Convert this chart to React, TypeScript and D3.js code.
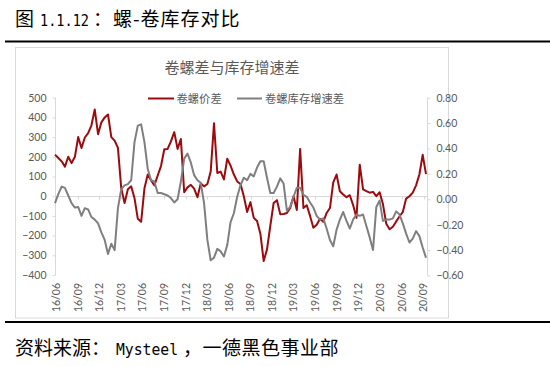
import React, { useRef, useEffect } from 'react';
import * as d3 from 'd3';

// biweekly samples, starting 2016-05-27
const startDate = '2016-05-27';
const stepDays = 14;

// 卷螺价差 (left axis)
const spreadValues = [
  211, 194, 177, 150, 200, 168, 200, 300, 245, 298,
  320, 360, 440, 315, 375, 400, 415, 300, 282, 245,
  40, -35, 35, 50, -10, -115, -130, 40, 110, 80,
  55, 105, 153, 238, 240, 278, 325, 240, 290, 20,
  45, 58, 38, -5, 65, 50, 62, 125, 370, 118,
  125, 85, 190, 155, 110, 75, 62, 0, -80, -30,
  -110, -126, -190, -329, -270, -150, -35, -20, -92, -90,
  -85, -60, 0, -70, 240, -60, -46, -100, -160, -145,
  -115, -130, -85, -60, 70, 110, 25, 9, -5, 5,
  -45, -110, 160, 35, 26, 18, 22, 0, 20, -40,
  -140, -168, -155, -128, -103, -80, -12, 0, 18, 55,
  110, 210, 112,
];

// 卷螺库存增速差 (right axis)
const stockValues = [
  -0.03, 0.04, 0.10, 0.09, 0.03, -0.03, -0.065, -0.06, -0.13, -0.07,
  -0.08, -0.14, -0.16, -0.19, -0.26, -0.32, -0.43, -0.35, -0.40, -0.07,
  0.08, 0.11, 0.12, 0.15, 0.45, 0.58, 0.59, 0.45, 0.24, 0.15,
  0.14, 0.05, 0.05, 0.04, 0.03, 0.01, -0.025, 0.0, 0.14, 0.32,
  0.36, 0.29, 0.19, 0.15, 0.13, -0.03, -0.32, -0.48, -0.46, -0.39,
  -0.41, -0.45, -0.36, -0.18, -0.11, 0.02, 0.11, 0.17, 0.15, 0.20,
  0.18, 0.25, 0.30, 0.30, 0.17, 0.05, 0.05, 0.10, 0.165, 0.125,
  -0.09, -0.06, 0.02, 0.09, 0.09, 0.035, 0.02, -0.025, -0.065, -0.13,
  -0.16, -0.15, -0.23, -0.32, -0.37, -0.24, -0.16, -0.10, -0.17, -0.23,
  -0.16, -0.12, -0.13, -0.12, -0.21, -0.30, -0.40, -0.06, -0.01, -0.17,
  -0.16, -0.16, -0.15, -0.095, -0.12, -0.19, -0.27, -0.34, -0.31, -0.25,
  -0.29, -0.38, -0.46,
];

const xTickLabels = [
  '16/06', '16/09', '16/12', '17/03', '17/06', '17/09', '17/12', '18/03', '18/06',
  '18/09', '18/12', '19/03', '19/06', '19/09', '19/12', '20/03', '20/06', '20/09',
];
const leftTicks = [500, 400, 300, 200, 100, 0, -100, -200, -300, -400];
const rightTicks = [0.8, 0.6, 0.4, 0.2, 0, -0.2, -0.4, -0.6];

const RED = '#9C0A0E';
const GRAY = '#7F7F7F';
const LABEL = '#595959';
const AXIS = '#D9D9D9';
const CJK = "'Noto Sans CJK SC', sans-serif";
const NUM = "Lato, 'Noto Sans CJK SC', sans-serif";
const MONO = "'DejaVu Sans Mono', monospace";

const App = () => {
  const ref = useRef<SVGSVGElement>(null);

  useEffect(() => {
    const svg = d3.select(ref.current);
    svg.selectAll('*').remove();

    const t0 = d3.timeParse('%Y-%m-%d')(startDate) as Date;
    const dates = spreadValues.map((_, i) => d3.timeDay.offset(t0, i * stepDays));
    const parseTick = d3.timeParse('%y/%m');

    const x = d3.scaleTime()
      .domain([dates[0], dates[dates.length - 1]])
      .range([55, 426]);
    const yL = d3.scaleLinear().domain([-400, 500]).range([275, 97.7]);
    const yR = d3.scaleLinear().domain([-0.6, 0.8]).range([275.5, 97.7]);

    // page title + rules
    svg.append('text').attr('x', 15).attr('y', 26)
      .attr('font-family', CJK).attr('font-size', 19).text('图');
    svg.append('text').attr('x', 40).attr('y', 26)
      .attr('font-family', MONO).attr('font-size', 16)
      .attr('textLength', 49).attr('lengthAdjust', 'spacingAndGlyphs').text('1.1.12');
    svg.append('text').attr('x', 93).attr('y', 26)
      .attr('font-family', CJK).attr('font-size', 19).attr('letter-spacing', 1)
      .text('：螺-卷库存对比');

    svg.append('line').attr('x1', 5).attr('x2', 550).attr('y1', 41.5).attr('y2', 41.5)
      .attr('stroke', '#000').attr('stroke-width', 2);
    svg.append('line').attr('x1', 5).attr('x2', 550).attr('y1', 322).attr('y2', 322)
      .attr('stroke', '#000').attr('stroke-width', 2);

    // chart frame
    svg.append('rect').attr('x', 15.5).attr('y', 47.5).attr('width', 433).attr('height', 270.5)
      .attr('fill', '#fff').attr('stroke', AXIS).attr('stroke-width', 1);

    svg.append('text').attr('x', 232).attr('y', 73).attr('text-anchor', 'middle')
      .attr('font-family', CJK).attr('font-size', 15).attr('fill', LABEL)
      .text('卷螺差与库存增速差');

    // legend
    const lg = svg.append('g').attr('font-family', CJK).attr('font-size', 11.3).attr('fill', LABEL);
    lg.append('line').attr('x1', 148).attr('x2', 174).attr('y1', 98.5).attr('y2', 98.5)
      .attr('stroke', RED).attr('stroke-width', 2);
    lg.append('text').attr('x', 176.5).attr('y', 102.5).text('卷螺价差');
    lg.append('line').attr('x1', 237).attr('x2', 262).attr('y1', 98.5).attr('y2', 98.5)
      .attr('stroke', GRAY).attr('stroke-width', 2);
    lg.append('text').attr('x', 265).attr('y', 102.5).text('卷螺库存增速差');

    // left axis
    const la = svg.append('g');
    la.append('line').attr('x1', 55.5).attr('x2', 55.5).attr('y1', yL(500)).attr('y2', yL(-400))
      .attr('stroke', AXIS);
    la.selectAll('.lt').data(leftTicks).enter().append('line')
      .attr('x1', 52.5).attr('x2', 55.5).attr('y1', d => yL(d) + 0.5).attr('y2', d => yL(d) + 0.5)
      .attr('stroke', AXIS);
    la.selectAll('.ll').data(leftTicks).enter().append('text')
      .attr('x', 46.5).attr('y', d => yL(d) + 3.8).attr('text-anchor', 'end')
      .attr('font-family', NUM).attr('font-size', 10.5).attr('fill', LABEL)
      .text(d => d3.format('d')(d));

    // right axis
    const ra = svg.append('g');
    ra.append('line').attr('x1', 427.5).attr('x2', 427.5).attr('y1', yR(0.8)).attr('y2', yR(-0.6))
      .attr('stroke', AXIS);
    ra.selectAll('.rt').data(rightTicks).enter().append('line')
      .attr('x1', 427.5).attr('x2', 430.5).attr('y1', d => yR(d) + 0.5).attr('y2', d => yR(d) + 0.5)
      .attr('stroke', AXIS);
    ra.selectAll('.rl').data(rightTicks).enter().append('text')
      .attr('x', 436.5).attr('y', d => yR(d) + 3.8)
      .attr('font-family', NUM).attr('font-size', 10.5).attr('fill', LABEL)
      .text(d => d3.format('.2f')(d));

    // category axis on the zero line, labels at the bottom
    const y0 = Math.round(yL(0)) + 0.5;
    svg.append('line').attr('x1', 55.5).attr('x2', 427.5).attr('y1', y0).attr('y2', y0)
      .attr('stroke', AXIS).attr('stroke-width', 1.2);
    const tickDates = xTickLabels.map(s => parseTick(s) as Date);
    svg.selectAll('.xt').data(tickDates).enter().append('line')
      .attr('x1', d => Math.round(x(d)) + 0.5).attr('x2', d => Math.round(x(d)) + 0.5)
      .attr('y1', y0).attr('y2', y0 + 3).attr('stroke', AXIS);
    svg.selectAll('.xl').data(xTickLabels).enter().append('text')
      .attr('transform', (d, i) => `translate(${x(tickDates[i]) + 3.8}, 283) rotate(-90)`)
      .attr('text-anchor', 'end')
      .attr('font-family', NUM).attr('font-size', 10.5).attr('fill', LABEL)
      .text(d => d);

    // series
    const spreadLine = d3.line<number>()
      .x((_, i) => x(dates[i]))
      .y(d => yL(d));
    const stockLine = d3.line<number>()
      .x((_, i) => x(dates[i]))
      .y(d => yR(d));

    svg.append('path').datum(spreadValues)
      .attr('d', spreadLine).attr('fill', 'none')
      .attr('stroke', RED).attr('stroke-width', 2).attr('stroke-linejoin', 'round');
    svg.append('path').datum(stockValues)
      .attr('d', stockLine).attr('fill', 'none')
      .attr('stroke', GRAY).attr('stroke-width', 2).attr('stroke-linejoin', 'round');

    // source
    svg.append('text').attr('x', 15).attr('y', 355)
      .attr('font-family', CJK).attr('font-size', 19).text('资料来源：');
    svg.append('text').attr('x', 116).attr('y', 355)
      .attr('font-family', MONO).attr('font-size', 16)
      .attr('textLength', 62).attr('lengthAdjust', 'spacingAndGlyphs').text('Mysteel');
    svg.append('text').attr('x', 183).attr('y', 355)
      .attr('font-family', CJK).attr('font-size', 19).attr('letter-spacing', 0.5)
      .text('，一德黑色事业部');
  }, []);

  return (
    <div style={{ position: 'fixed', left: 0, top: 0 }}>
      <svg ref={ref} width={550} height={366} style={{ display: 'block', background: '#fff' }} />
    </div>
  );
};

export default App;
